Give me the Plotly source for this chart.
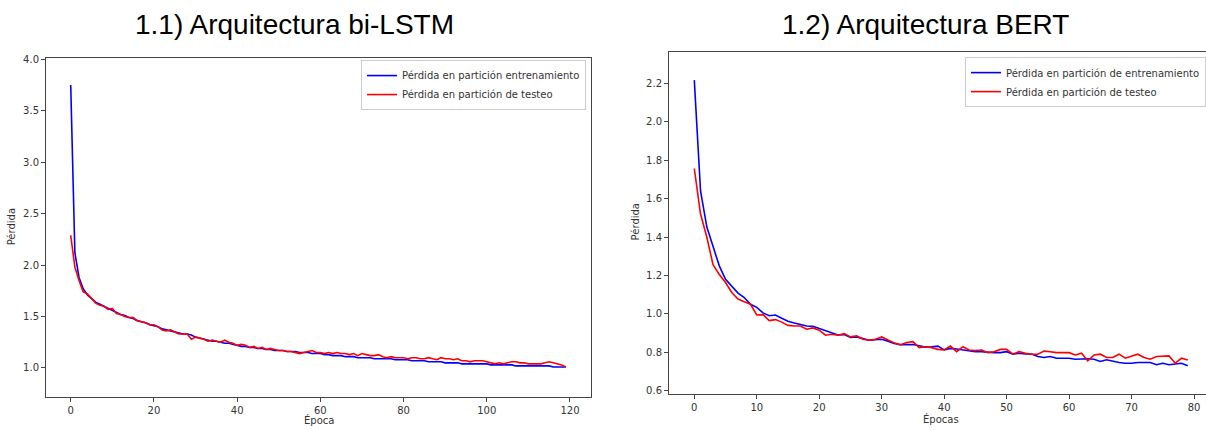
import plotly.graph_objects as go

W, H = 1206, 430

# ---------------- data ----------------
lstm_epochs = list(range(120))
lstm_train = [
    3.75, 2.12, 1.88, 1.77, 1.71, 1.67, 1.64, 1.62, 1.60, 1.58,
    1.56, 1.54, 1.52, 1.51, 1.49, 1.48, 1.46, 1.45, 1.44, 1.42,
    1.41, 1.40, 1.38, 1.37, 1.36, 1.35, 1.34, 1.33, 1.33, 1.32,
    1.30, 1.29, 1.28, 1.27, 1.26, 1.26, 1.25, 1.24, 1.24, 1.23,
    1.22, 1.21, 1.21, 1.20, 1.20, 1.19, 1.19, 1.18, 1.18, 1.17,
    1.17, 1.17, 1.16, 1.16, 1.16, 1.15, 1.15, 1.15, 1.14, 1.14,
    1.14, 1.13, 1.13, 1.12, 1.12, 1.12, 1.11, 1.11, 1.11, 1.10,
    1.10, 1.10, 1.10, 1.09, 1.09, 1.09, 1.09, 1.09, 1.08, 1.08,
    1.08, 1.08, 1.07, 1.07, 1.07, 1.07, 1.06, 1.06, 1.06, 1.06,
    1.05, 1.05, 1.05, 1.05, 1.04, 1.04, 1.04, 1.04, 1.04, 1.04,
    1.04, 1.03, 1.03, 1.03, 1.03, 1.03, 1.03, 1.02, 1.02, 1.02,
    1.02, 1.02, 1.02, 1.02, 1.02, 1.02, 1.01, 1.01, 1.01, 1.01,
]
lstm_test = [
    2.29, 1.98, 1.85, 1.74, 1.72, 1.67, 1.63, 1.61, 1.60, 1.57,
    1.58, 1.53, 1.52, 1.50, 1.49, 1.49, 1.46, 1.45, 1.44, 1.42,
    1.42, 1.40, 1.37, 1.36, 1.37, 1.35, 1.33, 1.33, 1.33, 1.28,
    1.30, 1.29, 1.28, 1.26, 1.27, 1.26, 1.25, 1.27, 1.25, 1.24,
    1.22, 1.23, 1.22, 1.20, 1.21, 1.19, 1.20, 1.18, 1.19, 1.18,
    1.17, 1.17, 1.16, 1.16, 1.15, 1.14, 1.15, 1.16, 1.17, 1.15,
    1.15, 1.14, 1.15, 1.14, 1.15, 1.14, 1.14, 1.13, 1.14, 1.12,
    1.14, 1.13, 1.12, 1.12, 1.13, 1.11, 1.10, 1.11, 1.10, 1.10,
    1.10, 1.09, 1.10, 1.10, 1.09, 1.09, 1.10, 1.09, 1.08, 1.10,
    1.09, 1.09, 1.08, 1.09, 1.07, 1.07, 1.06, 1.07, 1.07, 1.07,
    1.06, 1.05, 1.04, 1.05, 1.04, 1.05, 1.06, 1.06, 1.05, 1.05,
    1.04, 1.04, 1.04, 1.04, 1.05, 1.06, 1.05, 1.04, 1.03, 1.01,
]

bert_epochs = list(range(80))
bert_train = [
    2.217, 1.64, 1.453, 1.35, 1.25, 1.18, 1.145, 1.108, 1.085, 1.05,
    1.034, 1.005, 0.99, 0.994, 0.977, 0.962, 0.952, 0.943, 0.937, 0.935,
    0.923, 0.911, 0.903, 0.89, 0.892, 0.877, 0.88, 0.872, 0.863, 0.865,
    0.868, 0.858, 0.846, 0.84, 0.84, 0.84, 0.834, 0.827, 0.829, 0.832,
    0.812, 0.82, 0.817, 0.812, 0.809, 0.803, 0.803, 0.80, 0.798, 0.798,
    0.803, 0.79, 0.795, 0.791, 0.791, 0.778, 0.773, 0.778, 0.769, 0.769,
    0.769, 0.764, 0.766, 0.766, 0.764, 0.752, 0.761, 0.752, 0.747, 0.743,
    0.743, 0.747, 0.747, 0.747, 0.735, 0.743, 0.735, 0.738, 0.743, 0.73,
]
bert_test = [
    1.757, 1.52, 1.40, 1.256, 1.205, 1.163, 1.111, 1.077, 1.063, 1.05,
    0.994, 0.996, 0.965, 0.97, 0.957, 0.94, 0.937, 0.937, 0.92, 0.927,
    0.915, 0.889, 0.894, 0.889, 0.897, 0.88, 0.885, 0.868, 0.863, 0.868,
    0.88, 0.863, 0.849, 0.838, 0.851, 0.855, 0.824, 0.829, 0.824, 0.815,
    0.812, 0.832, 0.803, 0.829, 0.812, 0.809, 0.812, 0.798, 0.803, 0.815,
    0.815, 0.79, 0.803, 0.795, 0.79, 0.79, 0.806, 0.803, 0.798, 0.798,
    0.798, 0.786, 0.795, 0.755, 0.786, 0.79, 0.773, 0.773, 0.79, 0.769,
    0.778, 0.79, 0.773, 0.764, 0.778, 0.781, 0.781, 0.743, 0.769, 0.76,
]

lstm_names = ["Pérdida en partición entrenamiento", "Pérdida en partición de testeo"]
bert_names = ["Pérdida en partición de entrenamiento", "Pérdida en partición de testeo"]
titles = ["1.1) Arquitectura bi-LSTM", "1.2) Arquitectura BERT"]
xlabels = ["Época", "Épocas"]
ylabel = "Pérdida"
lstm_yticks = [1.0, 1.5, 2.0, 2.5, 3.0, 3.5, 4.0]
lstm_xticks = [0, 20, 40, 60, 80, 100, 120]
bert_yticks = [0.6, 0.8, 1.0, 1.2, 1.4, 1.6, 1.8, 2.0, 2.2]
bert_xticks = [0, 10, 20, 30, 40, 50, 60, 70, 80]

BLUE = "#0000ff"
RED = "#ff0000"
AX = "#444444"
TXT = "#333333"
FONT = "DejaVu Sans"

fig = go.Figure()
fig.add_trace(go.Scatter(x=lstm_epochs, y=lstm_train, mode="lines", name=lstm_names[0],
                         line=dict(color=BLUE, width=1.6), xaxis="x", yaxis="y", legend="legend"))
fig.add_trace(go.Scatter(x=lstm_epochs, y=lstm_test, mode="lines", name=lstm_names[1],
                         line=dict(color=RED, width=1.6), xaxis="x", yaxis="y", legend="legend"))
fig.add_trace(go.Scatter(x=bert_epochs, y=bert_train, mode="lines", name=bert_names[0],
                         line=dict(color=BLUE, width=1.6), xaxis="x2", yaxis="y2", legend="legend2"))
fig.add_trace(go.Scatter(x=bert_epochs, y=bert_test, mode="lines", name=bert_names[1],
                         line=dict(color=RED, width=1.6), xaxis="x2", yaxis="y2", legend="legend2"))

def px_x(p):
    return p / W

def px_y(p):
    return (H - p) / H

axcommon = dict(showgrid=False, zeroline=False, showline=True, linecolor=AX, linewidth=1,
                ticks="outside", ticklen=4, tickcolor=AX, tickwidth=1,
                tickfont=dict(family=FONT, size=10, color=TXT))

fig.update_layout(
    width=W, height=H,
    margin=dict(l=0, r=0, t=0, b=0),
    paper_bgcolor="white", plot_bgcolor="white",
    showlegend=True,
    xaxis=dict(domain=[px_x(46), px_x(591)], range=[-5.94, 125.05], tickvals=lstm_xticks,
               mirror=True, anchor="y", **axcommon),
    yaxis=dict(domain=[px_y(399), px_y(55)], range=[0.7228, 4.0115], tickvals=lstm_yticks,
               tickformat=".1f", mirror=True, anchor="x", **axcommon),
    xaxis2=dict(domain=[px_x(669), 1.0], range=[-4.05, 81.92], tickvals=bert_xticks,
                mirror=True, anchor="y2", **axcommon),
    yaxis2=dict(domain=[px_y(396), px_y(49.3)], range=[0.585, 2.361], tickvals=bert_yticks,
                tickformat=".1f", mirror=False, anchor="x2", **axcommon),
    legend=dict(x=px_x(586), y=px_y(57), xanchor="right", yanchor="top",
                bgcolor="rgba(255,255,255,0.8)", bordercolor="#cccccc", borderwidth=1,
                font=dict(family=FONT, size=10, color=TXT), itemwidth=30,
                tracegroupgap=0),
    legend2=dict(x=1.0, y=px_y(54), xanchor="right", yanchor="top",
                 bgcolor="rgba(255,255,255,0.8)", bordercolor="#cccccc", borderwidth=1,
                 font=dict(family=FONT, size=10, color=TXT), itemwidth=30,
                 tracegroupgap=0),
)

ann = []
ann.append(dict(text=titles[0], x=px_x(294), y=px_y(21), xref="paper", yref="paper",
                xanchor="center", yanchor="middle", showarrow=False,
                font=dict(family="Liberation Sans", size=28, color="black")))
ann.append(dict(text=titles[1], x=px_x(925), y=px_y(21), xref="paper", yref="paper",
                xanchor="center", yanchor="middle", showarrow=False,
                font=dict(family="Liberation Sans", size=28, color="black")))
ann.append(dict(text=xlabels[0], x=px_x(318.5), y=px_y(423), xref="paper", yref="paper",
                xanchor="center", yanchor="middle", showarrow=False,
                font=dict(family=FONT, size=10, color=TXT)))
ann.append(dict(text=xlabels[1], x=px_x(940.5), y=px_y(422), xref="paper", yref="paper",
                xanchor="center", yanchor="middle", showarrow=False,
                font=dict(family=FONT, size=10, color=TXT)))
ann.append(dict(text=ylabel, x=px_x(11), y=px_y(227), xref="paper", yref="paper",
                xanchor="center", yanchor="middle", showarrow=False, textangle=-90,
                font=dict(family=FONT, size=10, color=TXT)))
ann.append(dict(text=ylabel, x=px_x(635), y=px_y(222), xref="paper", yref="paper",
                xanchor="center", yanchor="middle", showarrow=False, textangle=-90,
                font=dict(family=FONT, size=10, color=TXT)))
fig.update_layout(annotations=ann)

fig.write_html("out.html",
               config={"displayModeBar": False},
               post_script="document.body.style.margin='0px';document.body.style.overflow='hidden';")
